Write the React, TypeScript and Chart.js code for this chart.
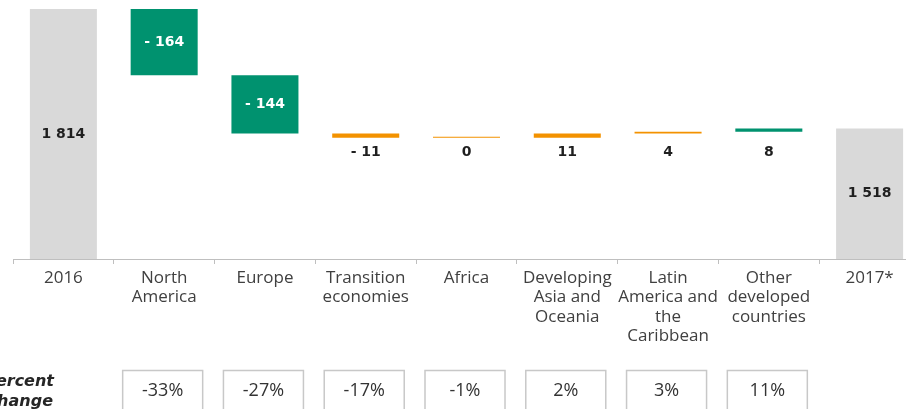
import React, { useEffect, useRef } from "react";
import { Chart, registerables } from "chart.js";

Chart.register(...registerables);

const categories: (string | string[])[] = [
  "2016",
  ["North", "America"],
  "Europe",
  ["Transition", "economies"],
  "Africa",
  ["Developing", "Asia and", "Oceania"],
  ["Latin", "America and", "the", "Caribbean"],
  ["Other", "developed", "countries"],
  "2017*",
];
const startTotal = 1814;
const changes = [-164, -144, -11, 0, 11, 4, 8];
const endTotal = 1518;
const percentChanges = ["-33%", "-27%", "-17%", "-1%", "2%", "3%", "11%"];
const barColors = [
  "#d9d9d9",
  "#00926f",
  "#00926f",
  "#f39200",
  "#f39200",
  "#f39200",
  "#f39200",
  "#00926f",
  "#d9d9d9",
];
const axisMin = 1195;
const axisMax = 1814;

function fmtTotal(v: number): string {
  const s = String(v);
  return s.length > 3 ? s.slice(0, s.length - 3) + " " + s.slice(-3) : s;
}
function fmtChange(v: number): string {
  return v < 0 ? "- " + Math.abs(v) : String(v);
}

const floating: [number, number][] = [];
const valueLabels: string[] = [];
floating.push([axisMin, startTotal]);
valueLabels.push(fmtTotal(startTotal));
{
  let run = startTotal;
  for (const c of changes) {
    const next = run + c;
    floating.push([Math.min(run, next), Math.max(run, next)]);
    valueLabels.push(fmtChange(c));
    run = next;
  }
}
floating.push([axisMin, endTotal]);
valueLabels.push(fmtTotal(endTotal));

const labelPlugin = {
  id: "waterfallLabels",
  afterDatasetsDraw(chart: any) {
    const ctx = chart.ctx;
    const meta = chart.getDatasetMeta(0);
    ctx.save();
    ctx.textAlign = "center";
    ctx.textBaseline = "middle";
    ctx.font = "bold 14px 'DejaVu Sans'";
    // common baseline for the labels of the small bars
    let smallBottom = 0;
    meta.data.forEach((el: any) => {
      const top = Math.min(el.y, el.base);
      const bottom = Math.max(el.y, el.base);
      if (bottom - top <= 30) smallBottom = Math.max(smallBottom, bottom);
    });
    meta.data.forEach((el: any, i: number) => {
      const top = Math.min(el.y, el.base);
      const bottom = Math.max(el.y, el.base);
      if (bottom - top > 30) {
        ctx.fillStyle = barColors[i] === "#d9d9d9" ? "#1f1f1f" : "#ffffff";
        ctx.fillText(valueLabels[i], el.x, (top + bottom) / 2);
      } else {
        ctx.fillStyle = "#1f1f1f";
        ctx.fillText(valueLabels[i], el.x, smallBottom + 14.5);
      }
    });

    // percent change row
    const xs = chart.scales.x;
    ctx.font = "18px 'Open Sans'";
    ctx.lineWidth = 1.5;
    ctx.strokeStyle = "#c8c8c8";
    percentChanges.forEach((p, k) => {
      const cx = xs.getPixelForValue(k + 1) - 1.5;
      ctx.strokeRect(cx - 40, 370.5, 80, 60);
      ctx.fillStyle = "#333333";
      ctx.fillText(p, cx, 391);
    });

    ctx.font = "italic bold 16px 'DejaVu Sans'";
    ctx.fillStyle = "#262626";
    ctx.textAlign = "right";
    ctx.fillText("Percent", 54, 382);
    ctx.fillText("change", 53, 402);
    ctx.restore();
  },
};

export default function App() {
  const ref = useRef<HTMLCanvasElement | null>(null);
  useEffect(() => {
    if (!ref.current) return;
    const chart = new Chart(ref.current, {
      type: "bar",
      data: {
        labels: categories as any,
        datasets: [
          {
            data: floating as any,
            backgroundColor: barColors,
            borderWidth: 0,
            barPercentage: 0.665,
            categoryPercentage: 1,
            minBarLength: 1,
          },
        ],
      },
      options: {
        responsive: false,
        animation: false,
        layout: { padding: { left: 13, right: 20, top: 9, bottom: 0 } },
        plugins: {
          legend: { display: false },
          tooltip: { enabled: false },
        },
        scales: {
          y: {
            display: false,
            min: axisMin,
            max: axisMax,
          },
          x: {
            afterFit: (s: any) => {
              s.height = 150;
            },
            border: { display: true, color: "#bfbfbf", width: 1 },
            grid: {
              display: true,
              drawOnChartArea: false,
              drawTicks: true,
              tickLength: 5,
              color: "#bfbfbf",
            },
            ticks: {
              autoSkip: false,
              maxRotation: 0,
              minRotation: 0,
              padding: 4,
              color: "#404040",
              font: { family: "'Open Sans'", size: 17, lineHeight: 1.15 },
            },
          },
        },
      },
      plugins: [labelPlugin],
    });
    return () => chart.destroy();
  }, []);
  return (
    <div
      style={{
        position: "fixed",
        left: 0,
        top: 0,
        width: 906,
        height: 409,
        overflow: "hidden",
        background: "#ffffff",
      }}
    >
      <canvas ref={ref} width={940} height={409} style={{ display: "block" }} />
    </div>
  );
}
